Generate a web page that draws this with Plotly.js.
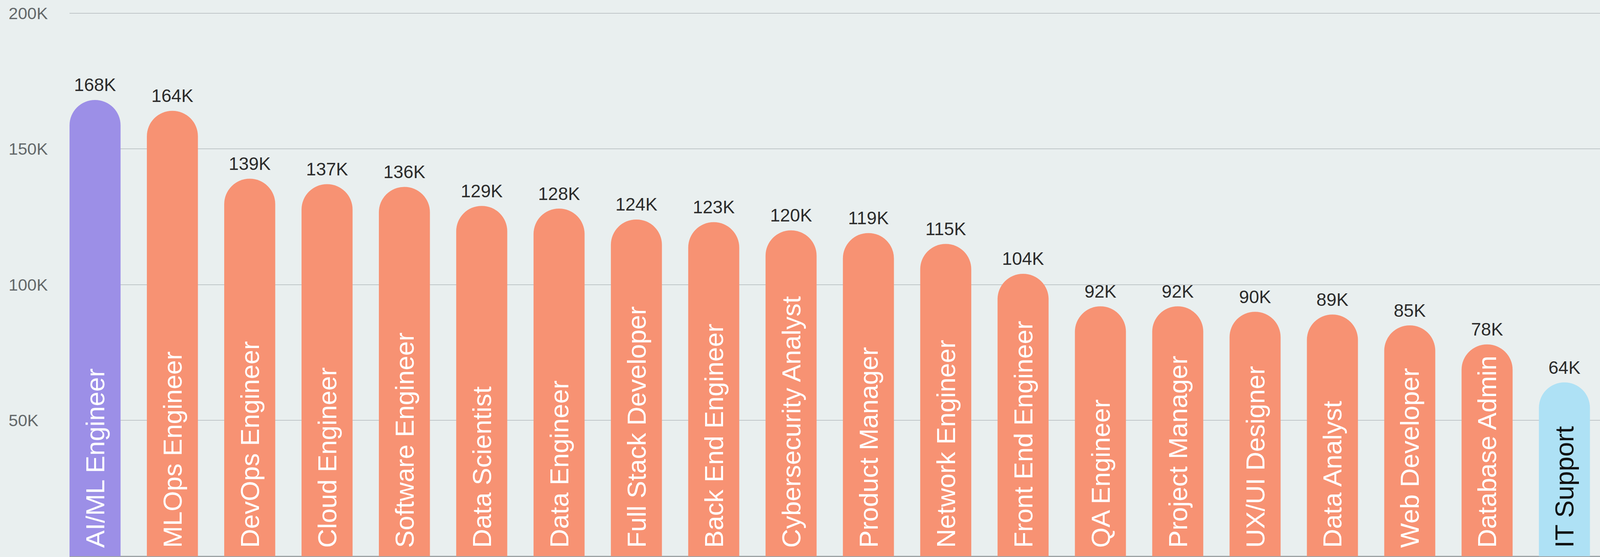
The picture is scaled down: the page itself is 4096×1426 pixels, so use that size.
<!DOCTYPE html>
<html>
<head>
<meta charset="utf-8">
<script src="https://cdn.plot.ly/plotly-3.0.1.min.js"></script>
<style>
  html, body { margin: 0; padding: 0; background: #E9EFEF; overflow: hidden; }
  #chart { width: 4096px; height: 1426px; }
</style>
</head>
<body>
<div id="chart"></div>
<script>
// ---- data ----
const roles = [
  "AI/ML Engineer", "MLOps Engineer", "DevOps Engineer", "Cloud Engineer",
  "Software Engineer", "Data Scientist", "Data Engineer", "Full Stack Developer",
  "Back End Engineer", "Cybersecurity Analyst", "Product Manager", "Network Engineer",
  "Front End Engineer", "QA Engineer", "Project Manager", "UX/UI Designer",
  "Data Analyst", "Web Developer", "Database Admin", "IT Support"
];
const salaries = [
  168000, 164000, 139000, 137000,
  136000, 129000, 128000, 124000,
  123000, 120000, 119000, 115000,
  104000, 92000, 92000, 90000,
  89000, 85000, 78000, 64000
];
const yTickValues = [50000, 100000, 150000, 200000];
const yTickLabels = ["50K", "100K", "150K", "200K"];

// ---- derived ----
const valueLabels = salaries.map(v => Math.round(v / 1000) + "K");
const insideLabels = roles.map(r => "\u00A0" + r);
const maxV = Math.max(...salaries), minV = Math.min(...salaries);
const barColors = salaries.map(v => v === maxV ? "#9C8FE7" : (v === minV ? "#AEE1F5" : "#F79273"));
const insideColors = salaries.map(v => v === minV ? "#111111" : "#FFFFFF");

const FONT = "Liberation Sans, Arial, Helvetica, sans-serif";

const traces = [
  {
    type: "bar",
    x: roles,
    y: salaries,
    marker: { color: barColors, cornerradius: "50%", line: { width: 0 } },
    text: insideLabels,
    textposition: "inside",
    insidetextanchor: "start",
    textangle: -90,
    constraintext: "none",
    insidetextfont: { family: FONT, size: 67, color: insideColors },
    hoverinfo: "skip"
  },
  {
    type: "scatter",
    mode: "markers+text",
    x: roles,
    y: salaries,
    text: valueLabels,
    textposition: "top center",
    marker: { size: 16, opacity: 0 },
    textfont: { family: FONT, size: 46, color: "#2B2B2B" },
    hoverinfo: "skip",
    cliponaxis: false
  }
];

const layout = {
  width: 4096,
  height: 1426,
  paper_bgcolor: "#E9EFEF",
  plot_bgcolor: "#E9EFEF",
  margin: { l: 0, r: 0, t: 5, b: 2, pad: 0 },
  showlegend: false,
  bargap: 0.34,
  xaxis: {
    type: "category",
    domain: [178 / 4096, 1],
    range: [-0.33, 19.46],
    showticklabels: false,
    showgrid: false,
    zeroline: false,
    showline: false,
    ticks: "",
    fixedrange: true
  },
  yaxis: {
    anchor: "free",
    position: 0,
    side: "left",
    range: [0, 204100],
    tickvals: yTickValues,
    ticktext: yTickLabels,
    ticklabelposition: "inside",
    ticklabelstandoff: 18,
    tickfont: { family: FONT, size: 43, color: "#63686A" },
    ticks: "",
    showline: false,
    showgrid: true,
    gridcolor: "#BFC6C8",
    gridwidth: 2,
    zeroline: true,
    zerolinecolor: "#9EA5A7",
    zerolinewidth: 3,
    automargin: false,
    fixedrange: true
  }
};

Plotly.newPlot("chart", traces, layout, { staticPlot: true, displayModeBar: false });
</script>
</body>
</html>
